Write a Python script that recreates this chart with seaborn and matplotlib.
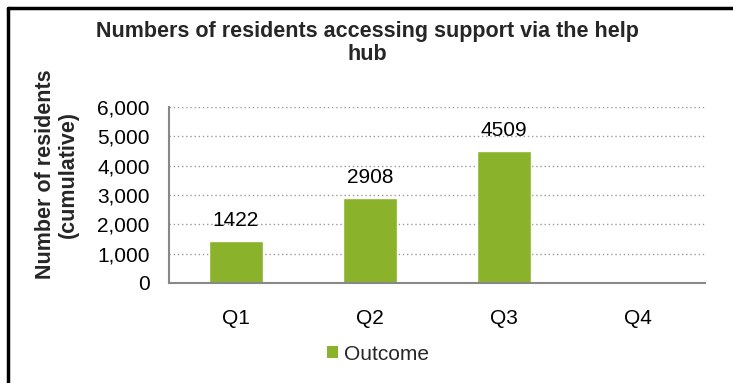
import matplotlib
matplotlib.use("Agg")
import matplotlib.pyplot as plt
import seaborn as sns
import pandas as pd
import numpy as np
from matplotlib.lines import Line2D
from matplotlib.patches import Patch

quarters = ["Q1", "Q2", "Q3", "Q4"]
values = [1422, 2908, 4509, np.nan]
value_labels = ["1422", "2908", "4509", ""]
series_name = "Outcome"
yticks = [0, 1000, 2000, 3000, 4000, 5000, 6000]

sns.set_theme(style="white")
plt.rcParams['font.family'] = ['Liberation Sans', 'DejaVu Sans']

df = pd.DataFrame({"Quarter": quarters, "Residents": values, "Series": series_name})

fig = plt.figure(figsize=(7.33, 3.83), dpi=100)
ax = fig.add_axes([169/733, 1-283/383, (705-169)/733, (283-107)/383])

bar_color = "#8AB22A"
sns.barplot(data=df, x="Quarter", y="Residents", color=bar_color, width=0.41,
            ax=ax, saturation=1, order=quarters)

FS = 15
ax.set_ylim(0, 6000)
ax.set_xlim(-0.5, 3.5)
ax.set_yticks(yticks)
ax.set_yticklabels([f"{v:,}" for v in yticks], fontsize=FS, color="black")
ax.tick_params(axis="y", which="major", length=5, width=1.2, color="#888888", direction="out", pad=9)
ax.tick_params(axis="x", which="major", length=0, labelsize=FS, pad=19, labelcolor="black")
ax.set_xticks(np.arange(-0.5, 4.0, 1.0), minor=True)
ax.tick_params(axis="x", which="minor", length=5, width=1.2, color="#888888", direction="out")

for v in yticks[1:]:
    ax.axhline(v, color="#9a9a9a", linestyle=(0, (1, 2)), linewidth=1.0, zorder=0)

for s in ["top", "right"]:
    ax.spines[s].set_visible(False)
for s in ["left", "bottom"]:
    ax.spines[s].set_color("#888888")
    ax.spines[s].set_linewidth(1.5)

ax.set_xlabel("")
ax.set_ylabel("")
fig.text(57/733, 1-174/383, "Number of residents\n(cumulative)", rotation=90,
         ha="center", va="center", fontsize=15.5, fontweight="bold", linespacing=1.1)

for i, (v, lab) in enumerate(zip(values, value_labels)):
    if lab:
        ax.annotate(lab, (i, v), xytext=(0, 8), textcoords="offset points",
                    ha="center", va="bottom", fontsize=FS, color="black")

fig.text(367/733, 1-43/383, "Numbers of residents accessing support via the help\nhub",
         ha="center", va="center", fontsize=15.5, fontweight="bold", linespacing=1.1)

handles = [Patch(facecolor=bar_color, edgecolor="none", label=series_name)]
fig.legend(handles=handles, loc="center", bbox_to_anchor=(378/733, 1-354/383),
           frameon=False, fontsize=FS, handlelength=0.55, handleheight=0.55,
           handletextpad=0.3)

# partial outer border (left and top)
fig.add_artist(Line2D([8/733, 8/733], [0, 1-8/383], transform=fig.transFigure,
                      color="black", linewidth=2.5))
fig.add_artist(Line2D([8/733, 1], [1-8/383, 1-8/383], transform=fig.transFigure,
                      color="black", linewidth=2.5))

fig.savefig("out.png", dpi=100)
